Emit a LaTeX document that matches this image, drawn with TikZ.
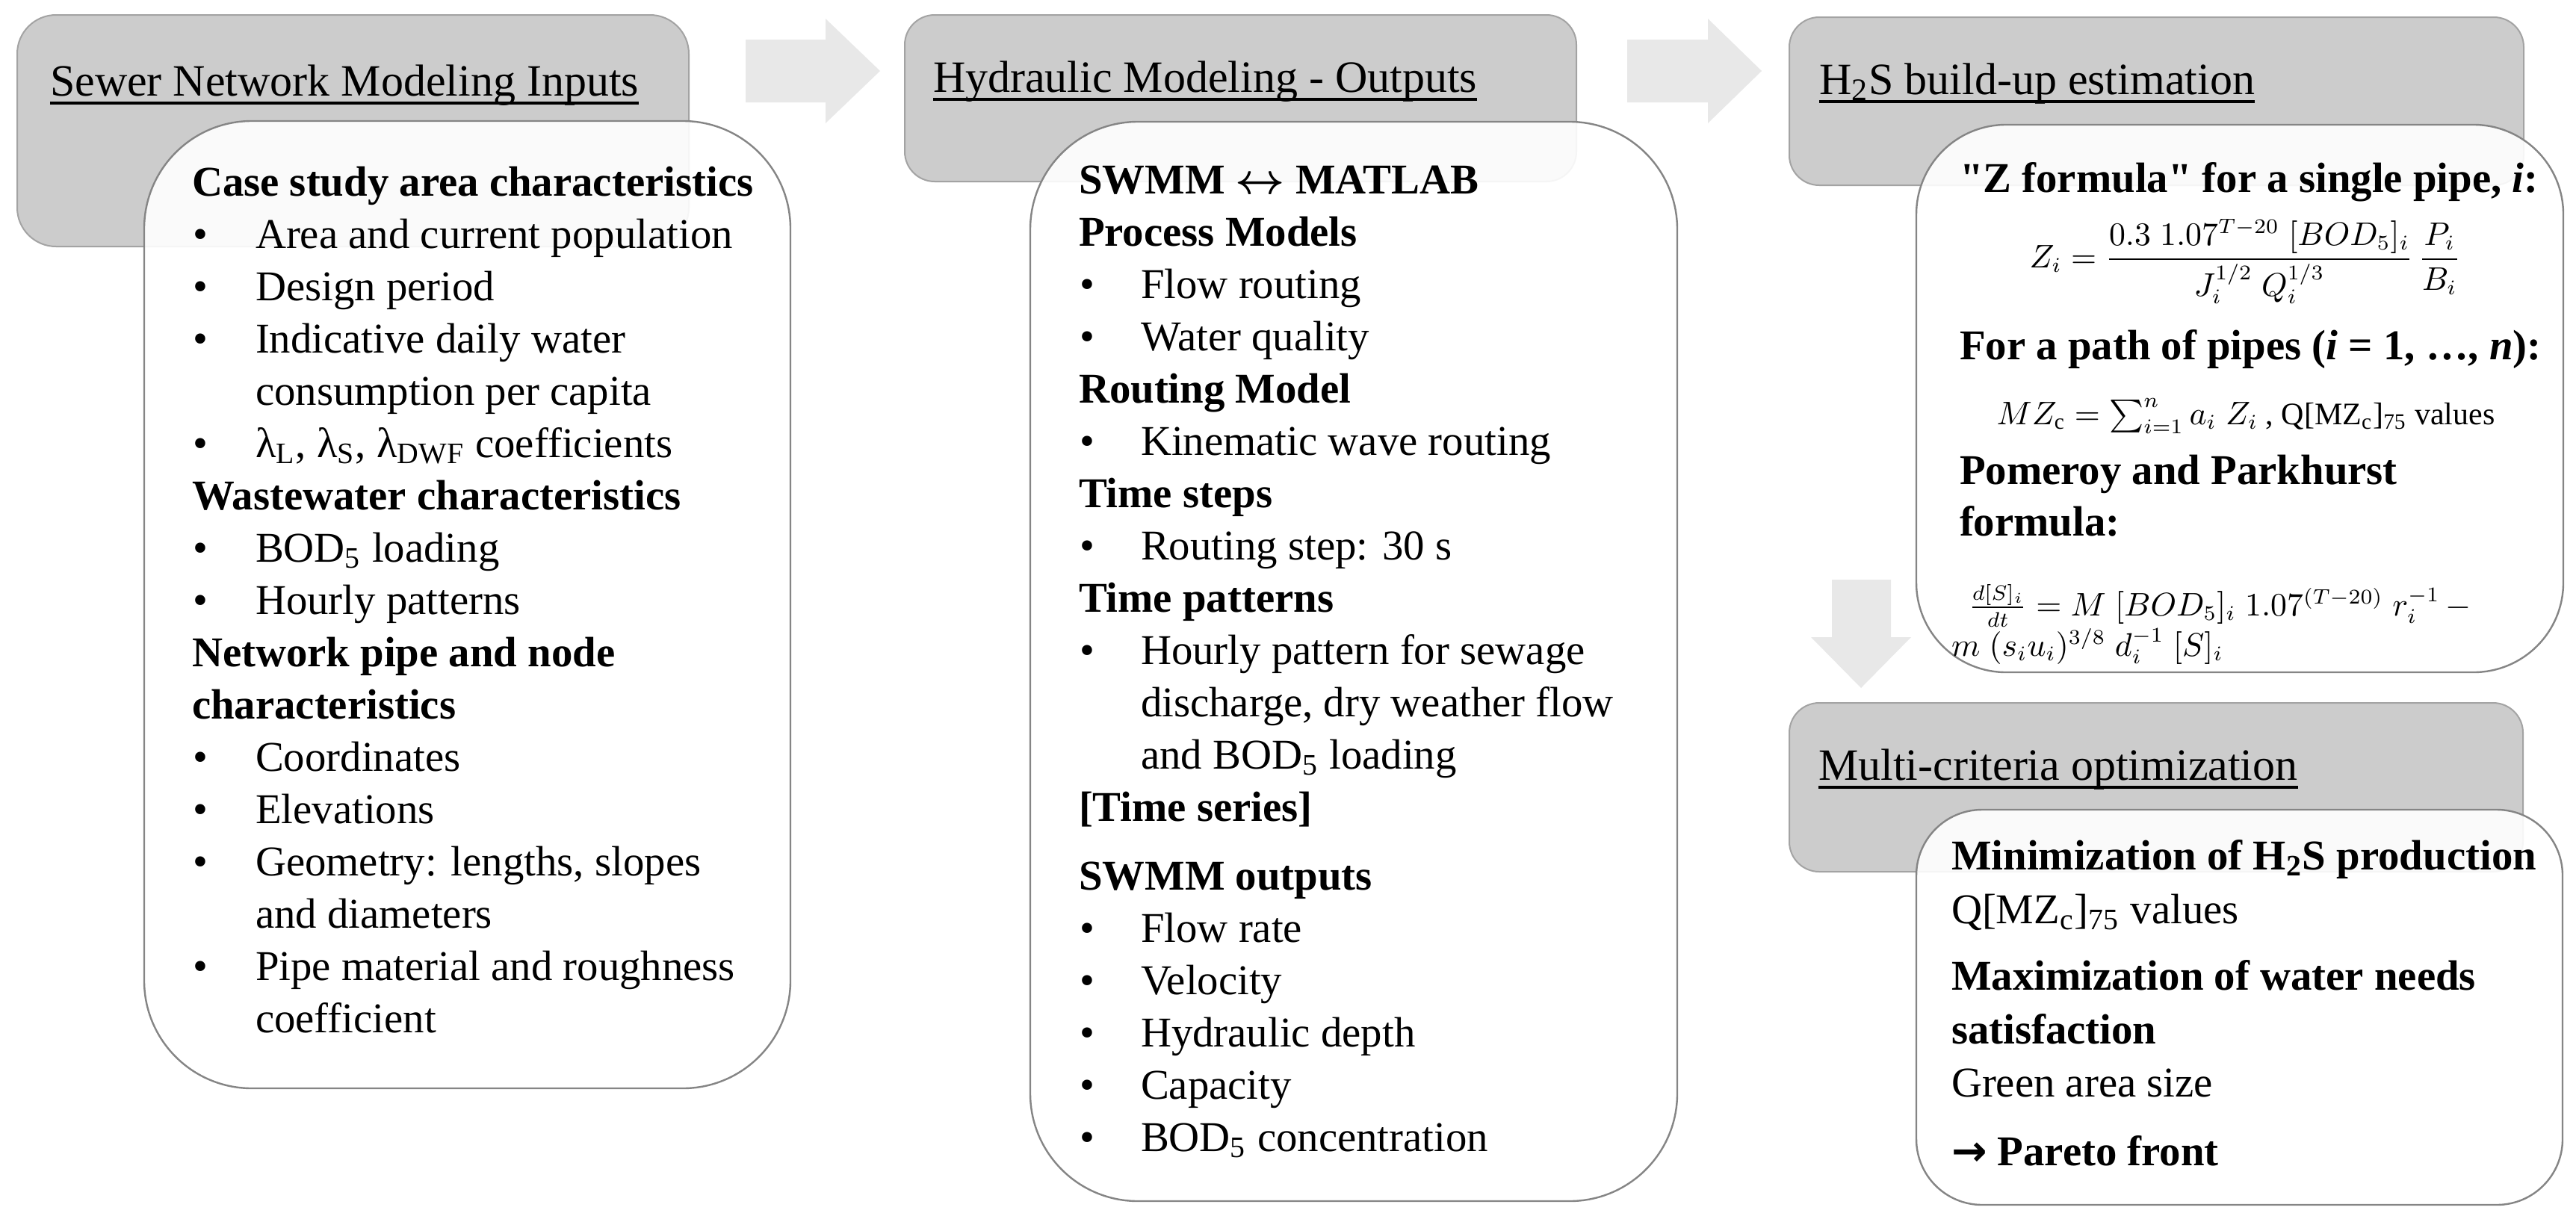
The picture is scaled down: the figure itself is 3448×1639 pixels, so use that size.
\documentclass[tikz,border=0pt]{standalone}
\usepackage{fontspec}
\setmainfont{Liberation Serif}[Ligatures=TeXOff]
\newfontfamily\djv{DejaVu Sans}
\usepackage{amsmath}
\definecolor{hdrgray}{HTML}{CCCCCC}
\definecolor{hdredge}{HTML}{A3A3A3}
\definecolor{boxedge}{HTML}{858585}
\definecolor{arrowgray}{HTML}{E8E8E8}
\newcommand\bodyfont{\fontsize{14.2}{17.5}\selectfont}
\newcommand\hdrfont{\fontsize{15}{18}\selectfont}
\newcommand\eqfont{\fontsize{10.5}{12}\selectfont}
\newcommand\HL[4]{\node[txt] (#1) at (#2,#3) {\textbf{#4}};}
\newcommand\RL[4]{\node[txt] (#1) at (#2,#3) {#4};}
\newcommand\BL[5]{\node[txt] (#1d) at (#2,#4) {•};\node[txt] (#1) at (#3,#4) {#5};}
\begin{document}
\begin{tikzpicture}[x=0.25pt,y=-0.25pt,
  hdrbox/.style={draw=hdredge, fill=hdrgray, line width=0.5pt, rectangle, inner sep=0pt},
  contentbox/.style={draw=boxedge, fill=white, fill opacity=0.9, line width=0.6pt, rectangle, inner sep=0pt},
  txt/.style={anchor=base west, inner sep=0pt, outer sep=0pt, font=\bodyfont},
  hdr/.style={anchor=base west, inner sep=0pt, outer sep=0pt, font=\hdrfont},
  eqc/.style={anchor=base, inner sep=0pt, outer sep=0pt, font=\eqfont},
  eql/.style={anchor=base west, inner sep=0pt, outer sep=0pt, font=\eqfont},
  uline/.style={line width=0.9pt},
  blockarrow/.style={fill=arrowgray, draw=none}]
\useasboundingbox (0,0) rectangle (3448,1639);
\fill[white] (0,0) rectangle (3448,1639);

% ---------- block arrows ----------
\fill[blockarrow] (998,53)--(1105,53)--(1105,25)--(1178,95)--(1105,165)--(1105,137)--(998,137)--cycle;
\fill[blockarrow] (2178,53)--(2286,53)--(2286,25)--(2358,95)--(2286,165)--(2286,137)--(2178,137)--cycle;
\fill[blockarrow] (2452,776)--(2531,776)--(2531,853)--(2558,853)--(2491,921)--(2424,853)--(2452,853)--cycle;

% ---------- boxes ----------
\node[hdrbox, rounded corners=13pt, minimum width=224.75pt, minimum height=77.5pt] (g1) at (472.5,175) {};
\node[contentbox, rounded corners=36pt, minimum width=216.25pt, minimum height=323.75pt] (w1) at (625.5,809.5) {};
\node[hdrbox, rounded corners=10pt, minimum width=224.75pt, minimum height=55.75pt] (g2) at (1660.5,131.5) {};
\node[contentbox, rounded corners=36pt, minimum width=216.5pt, minimum height=361.25pt] (w2) at (1812,885.5) {};
\node[hdrbox, rounded corners=10pt, minimum width=245.75pt, minimum height=56.25pt] (g3) at (2886.5,135.5) {};
\node[contentbox, rounded corners=30pt, minimum width=216.5pt, minimum height=183.25pt] (w3) at (2998,533.5) {};
\node[hdrbox, rounded corners=10pt, minimum width=245.5pt, minimum height=56.5pt] (g4) at (2886,1054) {};
\node[contentbox, rounded corners=22pt, minimum width=216.25pt, minimum height=132.25pt] (w4) at (2997.5,1348.5) {};

% ---------- headers ----------
\node[hdr] (h1) at (67,128) {Sewer Network Modeling Inputs};
\draw[uline] ([yshift=-2.5pt]h1.base west) -- ([yshift=-2.5pt]h1.base east);
\node[hdr] (h2) at (1249,123) {Hydraulic Modeling - Outputs};
\draw[uline] ([yshift=-2.5pt]h2.base west) -- ([yshift=-2.5pt]h2.base east);
\node[hdr] (h3) at (2435,126) {H\textsubscript{2}S build-up estimation};
\draw[uline] ([yshift=-2.5pt]h3.base west) -- ([yshift=-2.5pt]h3.base east);
\node[hdr] (h4) at (2434,1044) {Multi-criteria optimization};
\draw[uline] ([yshift=-2.5pt]h4.base west) -- ([yshift=-2.5pt]h4.base east);

% ---------- box 1 text ----------
\HL{a1}{257}{262}{Case study area characteristics}
\BL{a2}{258}{342}{332}{Area and current population}
\BL{a3}{258}{342}{402}{Design period}
\BL{a4}{258}{342}{472}{Indicative daily water}
\RL{a5}{342}{542}{consumption per capita}
\BL{a6}{258}{342}{612}{λ\textsubscript{L}, λ\textsubscript{S}, λ\textsubscript{DWF} coefficients}
\HL{a7}{257}{682}{Wastewater characteristics}
\BL{a8}{258}{342}{752}{BOD\textsubscript{5} loading}
\BL{a9}{258}{342}{822}{Hourly patterns}
\HL{a10}{257}{892}{Network pipe and node}
\HL{a11}{257}{962}{characteristics}
\BL{a12}{258}{342}{1032}{Coordinates}
\BL{a13}{258}{342}{1102}{Elevations}
\BL{a14}{258}{342}{1172}{Geometry: lengths, slopes}
\RL{a15}{342}{1242}{and diameters}
\BL{a16}{258}{342}{1312}{Pipe material and roughness}
\RL{a17}{342}{1382}{coefficient}

% ---------- box 2 text ----------
\HL{b1}{1444}{259}{SWMM $\boldsymbol{\leftrightarrow}$ MATLAB}
\HL{b2}{1444}{329}{Process Models}
\BL{b3}{1445}{1527}{399}{Flow routing}
\BL{b4}{1445}{1527}{469}{Water quality}
\HL{b5}{1444}{539}{Routing Model}
\BL{b6}{1445}{1527}{609}{Kinematic wave routing}
\HL{b7}{1444}{679}{Time steps}
\BL{b8}{1445}{1527}{749}{Routing step: 30 s}
\HL{b9}{1444}{819}{Time patterns}
\BL{b10}{1445}{1527}{889}{Hourly pattern for sewage}
\RL{b11}{1527}{959}{discharge, dry weather flow}
\RL{b12}{1527}{1029}{and BOD\textsubscript{5} loading}
\HL{b13}{1444}{1099}{[Time series]}
\HL{b14}{1444}{1191}{SWMM outputs}
\BL{b15}{1445}{1527}{1261}{Flow rate}
\BL{b16}{1445}{1527}{1331}{Velocity}
\BL{b17}{1445}{1527}{1401}{Hydraulic depth}
\BL{b18}{1445}{1527}{1471}{Capacity}
\BL{b19}{1445}{1527}{1541}{BOD\textsubscript{5} concentration}

% ---------- box 3 text ----------
\HL{c1}{2623}{257}{"Z formula" for a single pipe, \textit{i}:}
\node[eqc] (c2) at (3005,358) {$\displaystyle Z_i=\frac{0.3\;1.07^{T-20}\;[BOD_5]_i}{J_i^{1/2}\;Q_i^{1/3}}\,\frac{P_i}{B_i}$};
\HL{c3}{2623}{481}{For a path of pipes (\textit{i} = 1, …, \textit{n}):}
\node[eqc] (c4) at (3006,568) {$MZ_{\mathrm{c}}=\sum_{i=1}^{n}a_i\;Z_i$ , Q[MZ\textsubscript{c}]\textsubscript{75} values};
\HL{c5}{2623}{648}{Pomeroy and Parkhurst}
\HL{c6}{2623}{717}{formula:}
\node[eql] (c7) at (2635,824) {$\frac{d[S]_i}{dt}=M\;[BOD_5]_i\;1.07^{(T-20)}\;r_i^{-1}\,-$};
\node[eql] (c8) at (2612,878) {$m\;(s_iu_i)^{3/8}\;d_i^{-1}\;[S]_i$};

% ---------- box 4 text ----------
\HL{d1}{2612}{1164}{Minimization of H\textsubscript{2}S production}
\RL{d2}{2612}{1236}{Q[MZ\textsubscript{c}]\textsubscript{75} values}
\HL{d3}{2612}{1325}{Maximization of water needs}
\HL{d4}{2612}{1397}{satisfaction}
\RL{d5}{2612}{1468}{Green area size}
\HL{d6}{2612}{1560}{{\djv\bfseries →} Pareto front}
\end{tikzpicture}
\end{document}
